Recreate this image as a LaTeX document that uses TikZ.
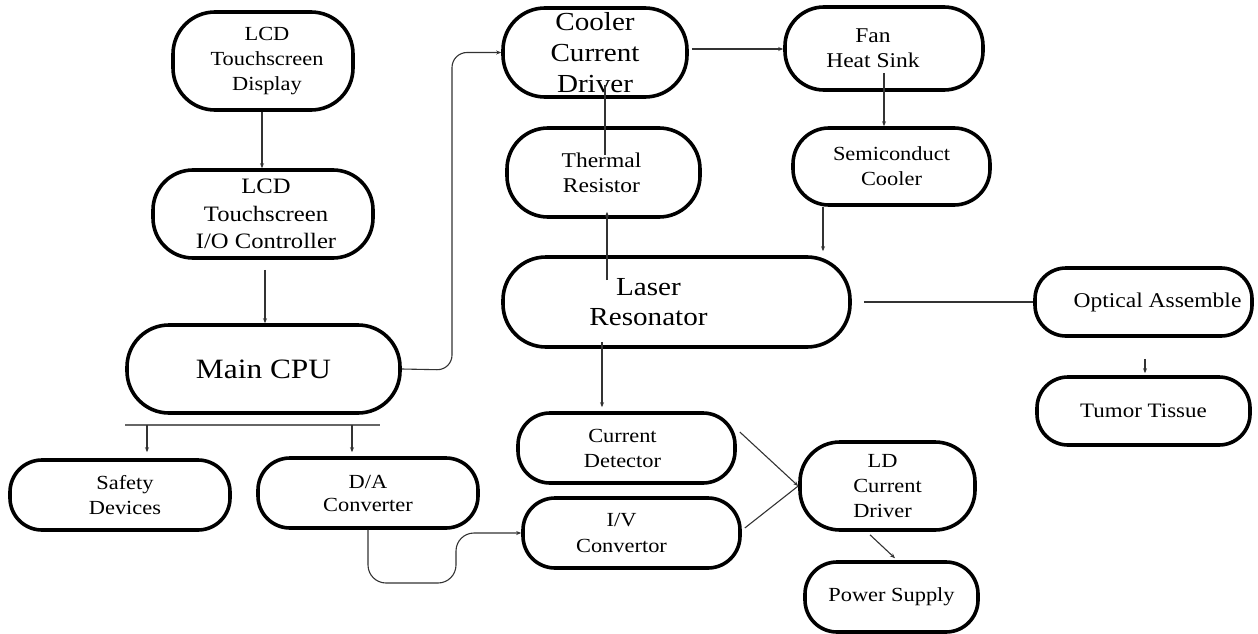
\documentclass[tikz,border=0pt]{standalone}
\usepackage{fontspec}
\setmainfont[FakeStretch=1.12]{Liberation Serif}
\usetikzlibrary{arrows.meta,calc}
\tikzset{
  blk/.style={draw=black, line width=3.6pt, rectangle, rounded corners=34pt, inner sep=0pt, align=center},
  conn/.style={draw=black!80, line width=1.1pt},
  arr/.style={conn, -{Stealth[length=5pt,width=4pt]}},
}
\begin{document}
\begin{tikzpicture}[x=1pt,y=-1pt]
\useasboundingbox (0,0) rectangle (1258,634);
% nodes
\node[blk, minimum width=180pt, minimum height=98pt, rounded corners=42pt, font=\fontsize{20}{25}\selectfont] (lcdd) at (263,61) {\hspace*{8pt}LCD\\\hspace*{8pt}Touchscreen\\\hspace*{8pt}Display};
\node[blk, minimum width=220pt, minimum height=88pt, rounded corners=40pt, font=\fontsize{22}{27.5}\selectfont] (lcdio) at (263,214) {\hspace*{6pt}LCD\\\hspace*{6pt}Touchscreen\\\hspace*{6pt}I/O Controller};
\node[blk, minimum width=273pt, minimum height=88pt, rounded corners=42pt, font=\fontsize{28}{32}\selectfont] (cpu) at (263.5,369) {Main CPU};
\node[blk, minimum width=220pt, minimum height=70pt, rounded corners=32pt, font=\fontsize{20}{25}\selectfont] (safe) at (120,495) {\hspace*{10pt}Safety\\\hspace*{10pt}Devices};
\node[blk, minimum width=220pt, minimum height=70pt, rounded corners=32pt, font=\fontsize{20}{23}\selectfont] (da) at (368,493) {D/A\\Converter};
\node[blk, minimum width=217pt, minimum height=70pt, rounded corners=32pt, font=\fontsize{20}{25}\selectfont] (cdet) at (626.5,448) {Current\hspace*{8pt}\\Detector\hspace*{8pt}};
\node[blk, minimum width=217pt, minimum height=70pt, rounded corners=32pt, font=\fontsize{20}{25}\selectfont] (iv) at (631.5,533) {I/V\hspace*{20pt}\\Convertor\hspace*{20pt}};
\node[blk, minimum width=175pt, minimum height=88pt, rounded corners=40pt, font=\fontsize{20}{25}\selectfont] (ld) at (887.5,486) {LD\hspace*{10pt}\\Current\hspace*{10pt}\\Driver\hspace*{10pt}};
\node[blk, minimum width=173pt, minimum height=70pt, rounded corners=32pt, font=\fontsize{20}{25}\selectfont] (ps) at (891.5,597) {Power Supply};
\node[blk, minimum width=217pt, minimum height=68pt, rounded corners=31pt, font=\fontsize{21}{25}\selectfont] (opt) at (1143.5,302) {\hspace*{28pt}Optical Assemble};
\node[blk, minimum width=213pt, minimum height=68pt, rounded corners=31pt, font=\fontsize{20.5}{25}\selectfont] (tum) at (1143.5,411) {Tumor Tissue};
\node[blk, minimum width=347pt, minimum height=90pt, rounded corners=43pt, font=\fontsize{26}{30}\selectfont] (las) at (676.5,302) {Laser\hspace*{56pt}\\Resonator\hspace*{56pt}};
\node[blk, minimum width=184pt, minimum height=89pt, rounded corners=42pt, font=\fontsize{26}{31}\selectfont] (cool) at (595,52.5) {Cooler\\Current\\Driver};
\node[blk, minimum width=198pt, minimum height=83pt, rounded corners=39pt, font=\fontsize{21}{25}\selectfont] (fan) at (884,48.5) {Fan\hspace*{22pt}\\Heat Sink\hspace*{22pt}};
\node[blk, minimum width=193pt, minimum height=89pt, rounded corners=41pt, font=\fontsize{21}{25}\selectfont] (therm) at (603.5,172.5) {Thermal\hspace*{4pt}\\Resistor\hspace*{4pt}};
\node[blk, minimum width=197pt, minimum height=77pt, rounded corners=36pt, font=\fontsize{20}{25}\selectfont] (semi) at (891.5,166.5) {Semiconduct\\Cooler};
% connectors
\draw[arr] ($(lcdd.south)+(-1,0)$) -- ($(lcdio.north)+(-1,0)$);
\draw[arr] ($(lcdio.south)+(2,10)$) -- ($(cpu.north)+(1.5,0)$);
\draw[arr, rounded corners=15pt] (cpu.east) -- (452,370) -- (452,52.5) -- (cool.west);
\draw[arr] ($(cool.east)+(3,-3.5)$) -- (fan.west |- 0,49);
\draw[conn] ($(cool.center)+(10,32.5)$) -- ($(therm.center)+(1.5,-17.5)$);
\draw[arr] ($(las.center)+(-69.5,-22)$) -- ($(therm.south)+(3.5,-7)$);
\draw[arr] ($(fan.center)+(0,24.5)$) -- (semi.north -| fan.center);
\draw[arr] ($(semi.south)+(-68.5,0)$) -- ($(las.north)+(146.5,-4)$);
\draw[conn] ($(las.east)+(12,0)$) -- (opt.west);
\draw[arr] ($(opt.south)+(1.5,21)$) -- ($(tum.north)+(1.5,-2)$);
\draw[arr] ($(las.south)+(-74.5,-7)$) -- ($(cdet.north)+(-24.5,-4)$);
\draw[arr] ($(cdet.east)+(3,-16)$) -- (ld.west);
\draw[conn] ($(iv.east)+(3,-5)$) -- (ld.west);
\draw[arr] ($(ld.south)+(-17.5,3)$) -- ($(ps.north)+(3.5,-2)$);
\draw[arr, rounded corners=18pt] (da.south) -- (368,583) -- (456,583) -- (456,533) -- (iv.west);
% bus below Main CPU
\coordinate (busL) at (125,425);
\coordinate (busR) at (380,425);
\draw[draw=black!60, line width=2.2pt] (busL) -- (busR);
\draw[arr] (147,425) -- ($(safe.north -| 147,0)+(0,-6)$);
\draw[arr] (352,425) -- ($(da.north -| 352,0)+(0,-4)$);
\end{tikzpicture}
\end{document}
